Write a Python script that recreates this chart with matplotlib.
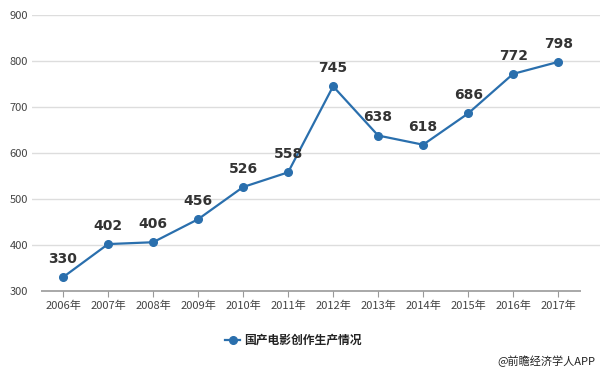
import matplotlib.pyplot as plt

plt.rcParams['font.family'] = ['Noto Sans CJK SC', 'DejaVu Sans']

years = ['2006年', '2007年', '2008年', '2009年', '2010年', '2011年',
         '2012年', '2013年', '2014年', '2015年', '2016年', '2017年']
values = [330, 402, 406, 456, 526, 558, 745, 638, 618, 686, 772, 798]
yticks = [300, 400, 500, 600, 700, 800, 900]
color = '#2a6fad'

fig = plt.figure(figsize=(6, 3.73), dpi=100)
# axes spans pixels x 32..600, y 15..291 (of 373)
ax = fig.add_axes([32 / 600, 1 - 291 / 373, 568 / 600, 276 / 373])

x = list(range(len(years)))
ax.plot(x, values, color=color, linewidth=1.6, marker='o', markersize=5.5, zorder=3)
for xi, v in zip(x, values):
    ax.annotate(str(v), (xi, v), xytext=(0, 8), textcoords='offset points',
                ha='center', va='bottom', fontsize=10, fontweight='semibold',
                color='#333333', family='DejaVu Sans')

ax.set_xlim(-0.69, 11.93)
ax.set_ylim(300, 900)
ax.set_yticks(yticks)
ax.set_xticks(x)
ax.set_xticklabels(years)
ax.tick_params(axis='x', length=4, color='#999999', labelsize=8,
               labelcolor='#444444', pad=3)
ax.tick_params(axis='y', length=0, labelsize=8, labelcolor='#444444', pad=3)
for t in yticks[1:]:
    ax.axhline(t, color='#dddddd', linewidth=1, zorder=1)
ax.hlines(300, -0.5, 11.5, color='#999999', linewidth=1.2, zorder=2, clip_on=False)
for s in ax.spines.values():
    s.set_visible(False)

# legend
ly = 1 - 340 / 373
fig.lines.append(plt.Line2D([225 / 600, 232.5 / 600, 240 / 600], [ly] * 3,
                            transform=fig.transFigure, color=color, linewidth=1.6,
                            marker='o', markersize=5.5, markevery=[1]))
fig.text(244 / 600, ly, '国产电影创作生产情况', fontsize=8.5,
         fontweight='bold', color='#222222', va='center', ha='left')
fig.text(595 / 600, 1 - 361 / 373, '@前瞻经济学人APP', fontsize=8,
         color='#222222', va='center', ha='right')

fig.savefig('out.png', dpi=100)
